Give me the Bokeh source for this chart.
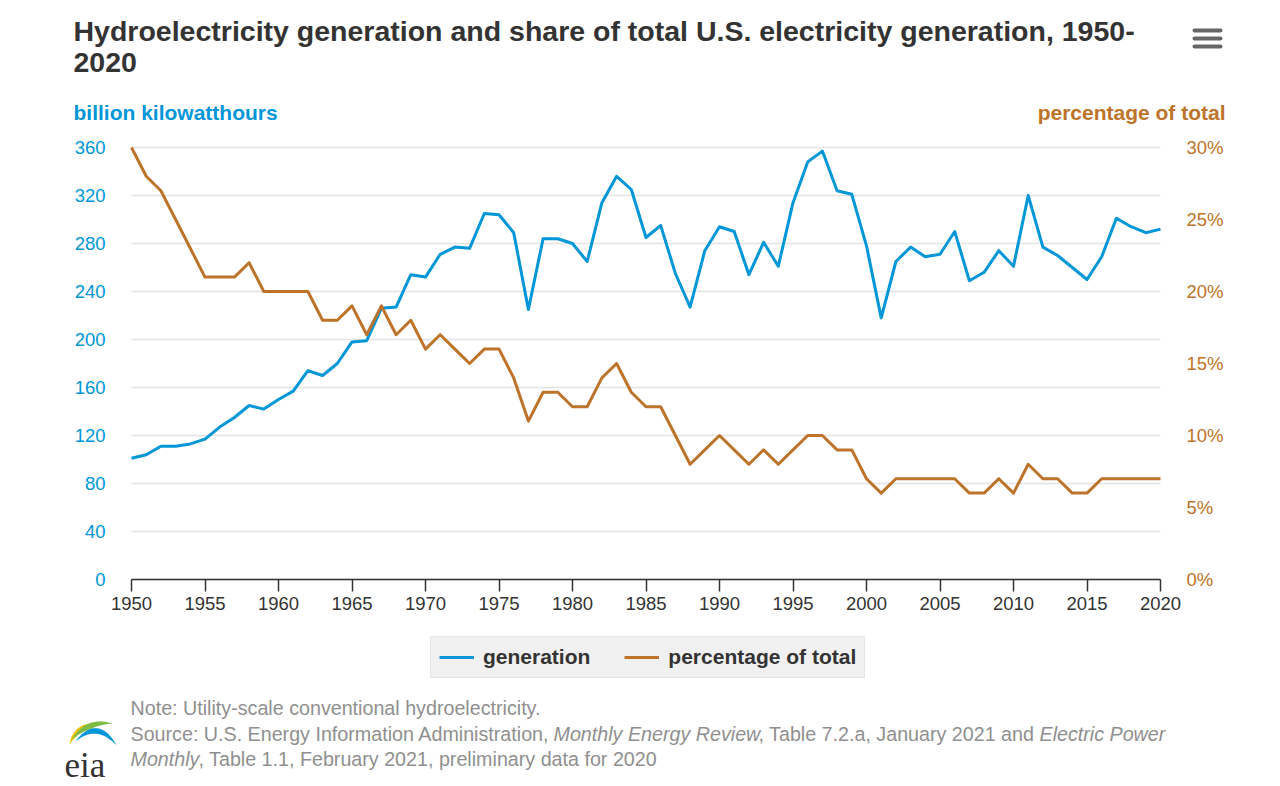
import math
from bokeh.plotting import figure
from bokeh.models import (Range1d, LinearAxis, FixedTicker, PrintfTickFormatter, Label,
                          Legend, LegendItem, BoxAnnotation, PolyAnnotation)
from bokeh.embed import file_html
from bokeh.resources import INLINE

# ---------------- data ----------------
years = list(range(1950, 2021))
generation = [101, 104, 111, 111, 113, 117, 127, 135, 145, 142,
              150, 157, 174, 170, 180, 198, 199, 226, 227, 254,
              252, 271, 277, 276, 305, 304, 289, 225, 284, 284,
              280, 265, 314, 336, 325, 285, 295, 255, 227, 274,
              294, 290, 254, 281, 261, 314, 348, 357, 324, 321,
              278, 218, 265, 277, 269, 271, 290, 249, 256, 274,
              261, 320, 277, 270, 260, 250, 269, 301, 294, 289, 292]
share_pct = [30, 28, 27, 25, 23, 21, 21, 21, 22, 20,
             20, 20, 20, 18, 18, 19, 17, 19, 17, 18,
             16, 17, 16, 15, 16, 16, 14, 11, 13, 13,
             12, 12, 14, 15, 13, 12, 12, 10, 8, 9,
             10, 9, 8, 9, 8, 9, 10, 10, 9, 9,
             7, 6, 7, 7, 7, 7, 7, 6, 6, 7,
             6, 8, 7, 7, 6, 6, 7, 7, 7, 7, 7]
left_ticks = [0, 40, 80, 120, 160, 200, 240, 280, 320, 360]
right_ticks = [0, 5, 10, 15, 20, 25, 30]
x_ticks = list(range(1950, 2021, 5))
series_names = ["generation", "percentage of total"]

title_line1 = "Hydroelectricity generation and share of total U.S. electricity generation, 1950-"
title_line2 = "2020"
left_title = "billion kilowatthours"
right_title = "percentage of total"

# ---------------- style / geometry ----------------
BLUE = "#0096d7"
ORANGE = "#bd732a"
DARK = "#333333"
GRAY = "#8f8f8f"
FONT = "Liberation Sans"
NOTE_SIZE = "19.7px"

W, H = 1280, 786
PL, PR, PT, PB = 131, 1160, 147, 579          # plot area in page pixels
X0, X1 = 1950, 2020
Y0, Y1 = 0, 360
P0, P1 = 0, 30
kx = (PR - PL) / (X1 - X0)
ky = (PB - PT) / (Y1 - Y0)
kp = (PB - PT) / (P1 - P0)

# the frame covers the whole canvas; axes are pinned at the plot-area edges
p = figure(width=W, height=H, output_backend="svg", toolbar_location=None, title=None,
           x_range=Range1d(X0 - PL / kx, X1 + (W - PR) / kx),
           y_range=Range1d(Y0 - (H - PB) / ky, Y1 + PT / ky),
           x_axis_type=None, y_axis_type=None, min_border=0)
p.outline_line_color = None
p.background_fill_color = "white"
p.border_fill_color = "white"
p.grid.visible = False
p.extra_y_ranges = {"pct": Range1d(P0 - (H - PB) / kp, P1 + PT / kp)}

# horizontal grid lines spanning only the plot area
p.segment(x0=[X0] * len(left_ticks), x1=[X1] * len(left_ticks), y0=left_ticks, y1=left_ticks,
          line_color="#e3e3e3", line_width=1.5)

# left axis
ya = LinearAxis(ticker=FixedTicker(ticks=left_ticks), fixed_location=X0, bounds=(Y0, Y1))
ya.axis_line_color = None
ya.major_tick_line_color = None
ya.minor_tick_line_color = None
ya.major_tick_out = 0
ya.major_tick_in = 0
ya.major_label_standoff = 26
ya.major_label_text_font = FONT
ya.major_label_text_font_size = "18.5px"
ya.major_label_text_color = BLUE
p.add_layout(ya, "left")

# right axis
ra = LinearAxis(y_range_name="pct", ticker=FixedTicker(ticks=right_ticks),
                formatter=PrintfTickFormatter(format="%d%%"), fixed_location=X1,
                bounds=(P0, P1))
ra.axis_line_color = None
ra.major_tick_line_color = None
ra.minor_tick_line_color = None
ra.major_tick_out = 0
ra.major_tick_in = 0
ra.major_label_standoff = 26
ra.major_label_text_font = FONT
ra.major_label_text_font_size = "18.5px"
ra.major_label_text_color = ORANGE
p.add_layout(ra, "right")

# bottom axis
xa = LinearAxis(ticker=FixedTicker(ticks=x_ticks), fixed_location=Y0, bounds=(X0, X1))
xa.axis_line_color = DARK
xa.axis_line_width = 1.5
xa.major_tick_line_color = DARK
xa.major_tick_line_width = 1.5
xa.major_tick_out = 12
xa.major_tick_in = 0
xa.minor_tick_line_color = None
xa.major_label_standoff = 5
xa.major_label_text_font = FONT
xa.major_label_text_font_size = "18.5px"
xa.major_label_text_color = DARK
p.add_layout(xa, "below")

# series
r_gen = p.line(years, generation, line_color=BLUE, line_width=3, line_join="round")
r_pct = p.line(years, share_pct, line_color=ORANGE, line_width=3, line_join="round",
               y_range_name="pct")

legend = Legend(items=[LegendItem(label=series_names[0], renderers=[r_gen]),
                       LegendItem(label=series_names[1], renderers=[r_pct])],
                orientation="horizontal", location=(430, H - 678))
legend.padding = 8
legend.spacing = 34
legend.glyph_width = 35
legend.glyph_height = 20
legend.label_height = 20
legend.label_standoff = 9
legend.label_text_font = FONT
legend.label_text_font_size = "21px"
legend.label_text_font_style = "bold"
legend.label_text_color = DARK
legend.background_fill_color = "#f0f0f0"
legend.background_fill_alpha = 1
legend.border_line_color = "#d9d9d9"
legend.border_line_width = 1.5
legend.margin = 0
p.add_layout(legend)


def lab(text, x, y, size, color, style="normal", align="left", baseline="middle", font=FONT):
    # x, y are page pixels from the top-left corner
    p.add_layout(Label(x=x, y=H - y, x_units="screen", y_units="screen", text=text,
                       text_font=font, text_font_size=size, text_color=color,
                       text_font_style=style, text_align=align, text_baseline=baseline))


# titles
lab(title_line1, 73, 30, "28.5px", DARK, "bold")
lab(title_line2, 73, 62, "28.5px", DARK, "bold")
lab(left_title, 73, 112, "21px", BLUE, "bold")
lab(right_title, 1225, 112, "21px", ORANGE, "bold", align="right")

# footnote
lab("Note: Utility-scale conventional hydroelectricity.", 130, 707, NOTE_SIZE, GRAY)
lab("Source: U.S. Energy Information Administration,", 130, 733, NOTE_SIZE, GRAY)
lab("Monthly Energy Review", 553, 733, NOTE_SIZE, GRAY, "italic")
lab(", Table 7.2.a, January 2021 and", 758, 733, NOTE_SIZE, GRAY)
lab("Electric Power", 1039, 733, NOTE_SIZE, GRAY, "italic")
lab("Monthly", 130, 758, NOTE_SIZE, GRAY, "italic")
lab(", Table 1.1, February 2021, preliminary data for 2020", 198, 758, NOTE_SIZE, GRAY)

# eia logo
lab("eia", 64, 765, "35px", DARK, baseline="alphabetic", font="Liberation Serif")


def crescent(p0, p1, p2, t, n=24):
    outer, inner = [], []
    for i in range(n + 1):
        s = i / n
        bx = (1 - s) ** 2 * p0[0] + 2 * (1 - s) * s * p1[0] + s * s * p2[0]
        by = (1 - s) ** 2 * p0[1] + 2 * (1 - s) * s * p1[1] + s * s * p2[1]
        dx = 2 * (1 - s) * (p1[0] - p0[0]) + 2 * s * (p2[0] - p1[0])
        dy = 2 * (1 - s) * (p1[1] - p0[1]) + 2 * s * (p2[1] - p1[1])
        L = math.hypot(dx, dy) or 1
        nx, ny = dy / L, -dx / L
        w = t * math.sin(math.pi * s)
        outer.append((bx + nx * w / 2, by + ny * w / 2))
        inner.append((bx - nx * w / 2, by - ny * w / 2))
    pts = outer + inner[::-1]
    return [x for x, _ in pts], [H - y for _, y in pts]


for (a, b, c, t, col) in [((69, 744), (76, 726), (95, 723), 5.0, "#f2c200"),
                          ((71, 739), (88, 720), (112, 723), 5.5, "#7cbc42"),
                          ((75, 741), (97, 718), (116, 745), 5.5, BLUE)]:
    xs, ys = crescent(a, b, c, t)
    p.add_layout(PolyAnnotation(xs=xs, ys=ys, xs_units="screen", ys_units="screen",
                                fill_color=col, fill_alpha=1, line_color=None))

# menu icon
for yt in (28, 36, 44):
    p.add_layout(BoxAnnotation(left=1192, right=1222, top=H - yt, bottom=H - yt - 4,
                               left_units="screen", right_units="screen",
                               top_units="screen", bottom_units="screen",
                               fill_color="#666666", fill_alpha=1, line_color=None,
                               border_radius=2))

open("out.html", "w").write(file_html(p, INLINE))
